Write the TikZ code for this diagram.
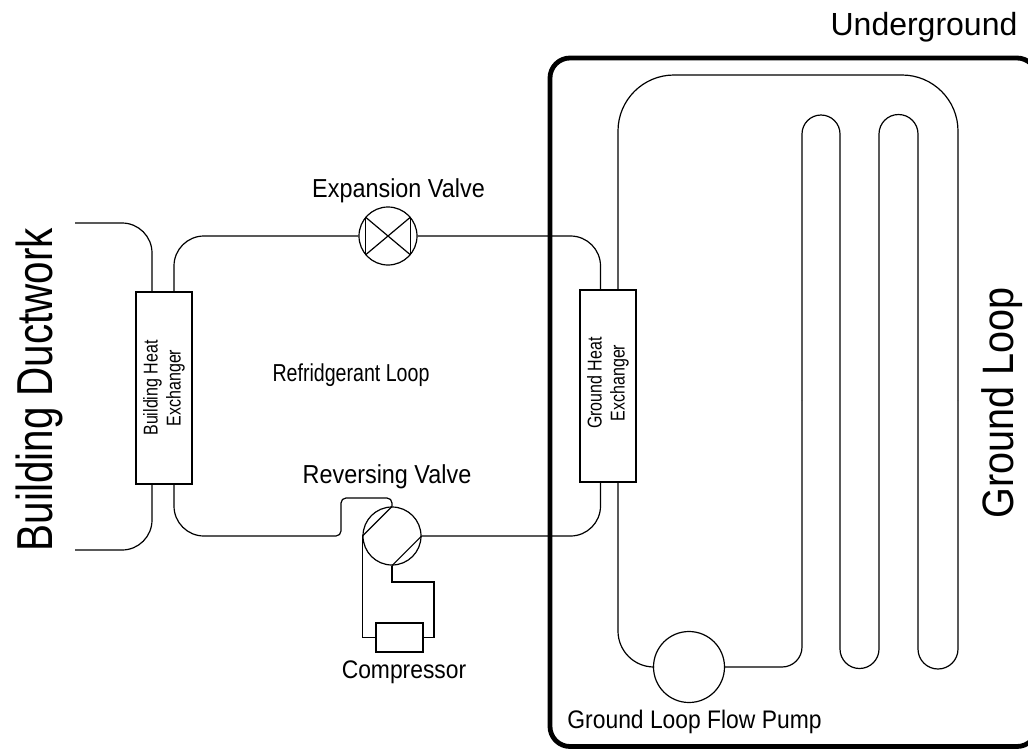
\documentclass[tikz,border=0pt]{standalone}
\usepackage{fontspec}
\setmainfont{Liberation Sans}
\newfontfamily\narrowf[FakeStretch=0.9]{Liberation Sans}
\newfontfamily\slimf[FakeStretch=0.8]{Liberation Sans}
\usetikzlibrary{positioning,calc}
\begin{document}
\begin{tikzpicture}[x=1pt, y=-1pt, line width=1.2pt,
  exch/.style={draw, minimum width=56pt, minimum height=192pt, inner sep=0pt},
  valve/.style={draw, circle, minimum size=58pt, inner sep=0pt},
  lbl/.style={font=\narrowf\fontsize{26}{30}\selectfont, inner sep=0pt},
  lblb/.style={font=\narrowf\fontsize{25.4}{30}\selectfont, inner sep=0pt},
  big/.style={font=\slimf\fontsize{50.5}{54}\selectfont, inner sep=0pt, rotate=90},
  bigb/.style={font=\narrowf\fontsize{44}{48}\selectfont, inner sep=0pt, rotate=90},
  small/.style={font=\slimf\fontsize{20}{23}\selectfont, inner sep=0pt, rotate=90, align=center}]
\useasboundingbox (0,0) rectangle (1028,750);
\fill[white] (0,0) rectangle (1028,750);
% underground
\draw[line width=4.8pt, rounded corners=20pt] (550,58) rectangle (1037,746.5);
% exchangers and valves
\node[exch] (bhx) at (164,388) {};
\node[exch] (ghx) at (608,386) {};
\node[valve] (exv) at (388,236) {};
\node[valve] (rev) at (392,536) {};
\node[draw, minimum width=47pt, minimum height=29pt, inner sep=0pt] (comp) at (399.5,637.5) {};
\node[draw, circle, minimum size=71pt, inner sep=0pt] (pump) at (689,667) {};
% pipe ends on the exchangers
\coordinate (btl) at (152,292);
\coordinate (btr) at (174,292);
\coordinate (bbl) at (152,484);
\coordinate (bbr) at (174,484);
\coordinate (gtl) at (600.5,290);
\coordinate (gtr) at (618,290);
\coordinate (gbl) at (600.5,482);
\coordinate (gbr) at (618,482);
\coordinate (ducta) at (75,223);
\coordinate (ductb) at (75,550);
% refrigerant loop
\draw[rounded corners=30pt] (btr) |- (exv.west);
\draw[rounded corners=30pt] (exv.east) -| (gtl);
\draw[rounded corners=30pt] (gbl) |- (rev.east);
\draw[rounded corners=30pt] (bbr) |- (260,536) [rounded corners=5pt] -| (341,498) -| (rev.north);
% reversing valve
\draw (rev.north) -- (rev.west);
\draw (rev.east) -- (rev.south);
\draw (rev.west) |- (comp.west);
\draw (comp.east) -| (434,582) -| (rev.south);
% expansion valve
\draw (exv.140) -- (exv.320);
\draw (exv.40) -- (exv.220);
\draw (exv.140) -- (exv.220);
\draw (exv.40) -- (exv.320);
% ductwork
\draw[rounded corners=30pt] (ducta) -| (btl);
\draw[rounded corners=30pt] (ductb) -| (bbl);
% ground loop
\draw[rounded corners=56pt] (gtr) |- (958,75) -- (958,400);
\draw (958,400) -- (958,649) arc[start angle=0, delta angle=-180, radius=20pt] -- (918,134)
  arc[start angle=0, delta angle=180, radius=19.5pt] -- (879,649)
  arc[start angle=0, delta angle=-180, radius=19.5pt] -- (840,134)
  arc[start angle=0, delta angle=180, radius=19pt] -- (802,400);
\draw[rounded corners=20pt] (802,400) |- (pump.east);
\draw[rounded corners=36pt] (gbr) |- (pump.west);
% labels
\node[lbl] (exl) at (398.5,191) {Expansion Valve};
\node[lbl] (rel) at (387,477) {Reversing Valve};
\node[lblb] (col) at (404,672) {Compressor};
\node[lbl, font=\slimf\fontsize{24.5}{28}\selectfont] (rfl) at (351,375) {Refridgerant Loop};
\node[lblb] (pul) at (694.5,722) {Ground Loop Flow Pump};
\node[lbl, font=\fontsize{32}{36}\selectfont] (unl) at (924,27.5) {Underground};
\node[big] (bdl) at (39,389.5) {Building Ductwork};
\node[bigb] (gll) at (1002,402.5) {Ground Loop};
\node[small] (bhl) at (164,388) {Building Heat\\Exchanger};
\node[small] (ghl) at (608,383) {Ground Heat\\Exchanger};
\end{tikzpicture}
\end{document}
